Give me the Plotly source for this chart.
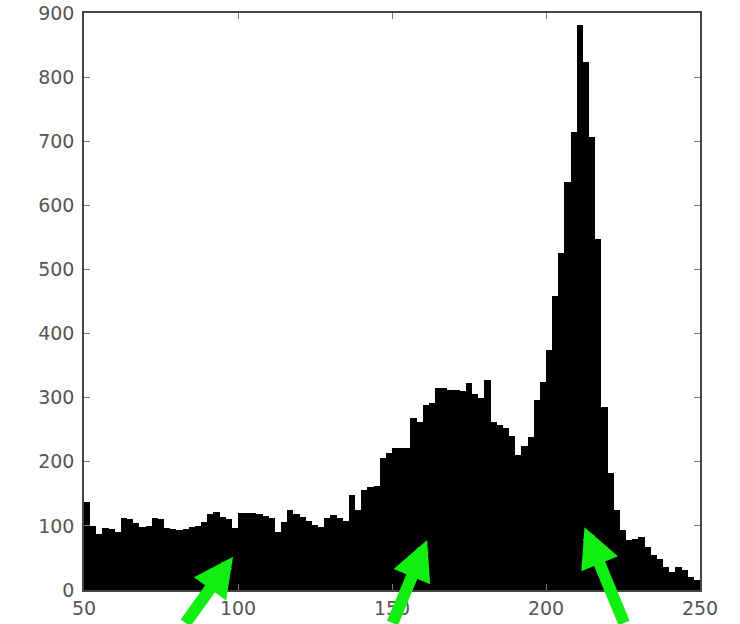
import plotly.graph_objects as go

# Histogram bins: width 2, from 50 to 250
bin_start = 50
bin_width = 2
counts = [
    138, 100, 88, 97, 95, 90, 112, 110, 105, 98,
    100, 112, 110, 97, 95, 93, 95, 98, 100, 106,
    118, 122, 114, 110, 96, 120, 120, 120, 118, 115,
    112, 90, 106, 125, 118, 114, 108, 102, 98, 112,
    117, 112, 108, 148, 125, 156, 160, 162, 206, 214,
    222, 222, 222, 269, 262, 289, 292, 315, 315, 312,
    312, 310, 323, 305, 300, 328, 262, 258, 252, 240,
    210, 225, 239, 297, 325, 375, 458, 525, 637, 714,
    881, 823, 706, 547, 286, 183, 125, 94, 78, 80,
    83, 67, 55, 48, 36, 28, 36, 31, 20, 15,
]
centers = [bin_start + bin_width * (i + 0.5) for i in range(len(counts))]

x_ticks = [50, 100, 150, 200, 250]
y_ticks = [0, 100, 200, 300, 400, 500, 600, 700, 800, 900]

# Arrow tips (data coords) and tail offsets (pixels)
arrow_x = [98.4, 161.4, 212.5]
arrow_y = [52, 78, 98]
arrow_ax = [-48, -35, 40]
arrow_ay = [67, 84, 97]

fig = go.Figure()
fig.add_trace(go.Bar(
    x=centers, y=counts, width=bin_width,
    marker=dict(color="black", line=dict(width=0)),
    showlegend=False,
))

for xa, ya, axx, ayy in zip(arrow_x, arrow_y, arrow_ax, arrow_ay):
    fig.add_annotation(
        x=xa, y=ya, xref="x", yref="y", ax=axx, ay=ayy,
        axref="pixel", ayref="pixel", text=" ", font=dict(size=1),
        showarrow=True, arrowhead=2, arrowwidth=12, arrowsize=0.66,
        arrowcolor="#11ee11", standoff=0, borderpad=0,
    )

tickfont = dict(family="DejaVu Sans", size=19, color="#555555")
fig.update_layout(
    width=740, height=624,
    margin=dict(l=84, r=40, t=13, b=34, autoexpand=False),
    paper_bgcolor="white", plot_bgcolor="white",
    bargap=0,
    xaxis=dict(range=[50, 250], tickvals=x_ticks, showgrid=False, zeroline=False,
               showline=True, linecolor="#444444", linewidth=1.5, mirror="ticks",
               ticks="inside", ticklen=6, tickcolor="#777777", tickfont=tickfont,
               automargin=False, ticklabelstandoff=0),
    yaxis=dict(range=[0, 900], tickvals=y_ticks, showgrid=False, zeroline=False,
               showline=True, linecolor="#444444", linewidth=1.5, mirror="ticks",
               ticks="inside", ticklen=6, tickcolor="#777777", tickfont=tickfont,
               automargin=False, ticklabelstandoff=4),
)

fig.write_html("out.html", post_script="document.body.style.margin='0';",
               config={"displayModeBar": False})
